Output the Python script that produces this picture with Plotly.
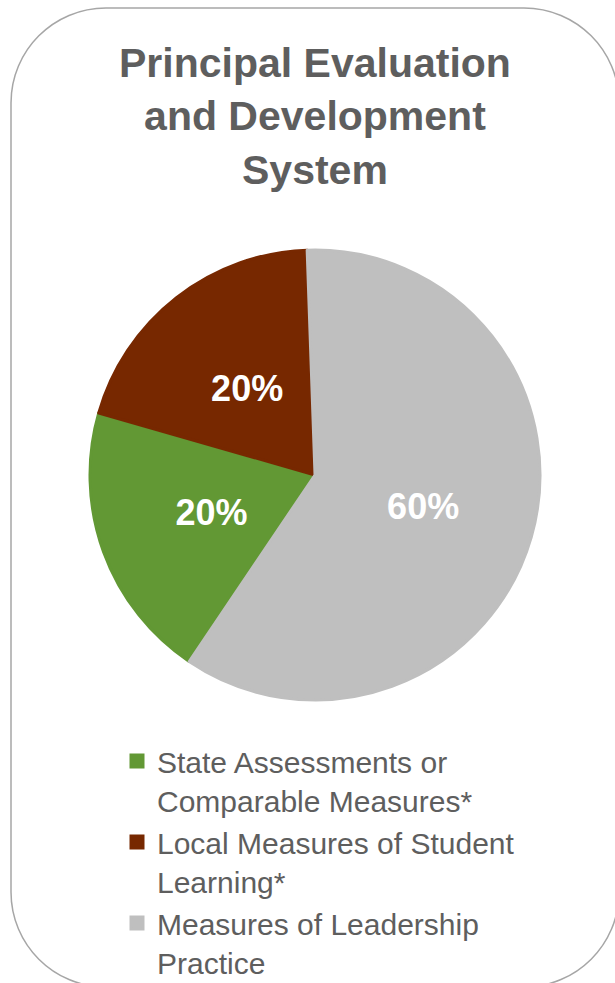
import plotly.graph_objects as go

# ---- data ----
labels = ["State Assessments or<br>Comparable Measures*",
          "Local Measures of Student<br>Learning*",
          "Measures of Leadership<br>Practice"]
values = [20, 20, 60]
colors = ["#629834", "#772800", "#BFBFBF"]
title_lines = ["Principal Evaluation", "and Development", "System"]

W, H = 615, 983
FONT = "Liberation Sans, Arial, sans-serif"
TXT = "#5E5E5E"
PCT = "%{percent:.0%}"


def px(x):
    return x / W


def py(y):
    return 1 - y / H


CX, CY, R = 315, 475, 225
R2 = 175

fig = go.Figure()
# main pie (large slice label)
fig.add_trace(go.Pie(
    labels=labels, values=values,
    marker=dict(colors=colors, line=dict(color=colors, width=3)),
    sort=False, direction="clockwise", rotation=214,
    texttemplate=["", "", PCT],
    textposition="inside", insidetextorientation="horizontal",
    textfont=dict(family=FONT, size=36, color="white", weight="bold"),
    domain=dict(x=[px(CX - R), px(CX + R)], y=[py(CY + R), py(CY - R)]),
    hoverinfo="skip",
))
# transparent overlay pie carrying the small-slice labels
fig.add_trace(go.Pie(
    labels=labels, values=values,
    marker=dict(colors=["rgba(0,0,0,0)"] * 3, line=dict(width=0)),
    sort=False, direction="clockwise", rotation=214,
    texttemplate=[PCT, PCT, ""],
    textposition="inside", insidetextorientation="horizontal",
    textfont=dict(family=FONT, size=36, color="white", weight="bold"),
    domain=dict(x=[px(CX - R2), px(CX + R2)], y=[py(CY + R2), py(CY - R2)]),
    hoverinfo="skip", showlegend=False,
))

# rounded border
x0, x1, y0, y1, r = 11, 619, 8, 987, 95
k = 0.5523 * r


def P(x, y):
    return f"{px(x):.5f},{py(y):.5f}"


path = (f"M {P(x0 + r, y0)} L {P(x1 - r, y0)} "
        f"C {P(x1 - r + k, y0)} {P(x1, y0 + r - k)} {P(x1, y0 + r)} "
        f"L {P(x1, y1 - r)} "
        f"C {P(x1, y1 - r + k)} {P(x1 - r + k, y1)} {P(x1 - r, y1)} "
        f"L {P(x0 + r, y1)} "
        f"C {P(x0 + r - k, y1)} {P(x0, y1 - r + k)} {P(x0, y1 - r)} "
        f"L {P(x0, y0 + r)} "
        f"C {P(x0, y0 + r - k)} {P(x0 + r - k, y0)} {P(x0 + r, y0)} Z")
fig.add_shape(type="path", path=path, xref="paper", yref="paper",
              line=dict(color="#A6A6A6", width=1.5), layer="below")

# title
fig.add_annotation(text="<b>" + "<br>".join(title_lines) + "</b>",
                   x=px(315), y=py(116), xref="paper", yref="paper",
                   xanchor="center", yanchor="middle", align="center",
                   showarrow=False, font=dict(family=FONT, size=41, color=TXT))

fig.update_layout(
    width=W, height=H,
    margin=dict(l=0, r=0, t=0, b=0, autoexpand=False),
    paper_bgcolor="white", plot_bgcolor="white",
    showlegend=True,
    legend=dict(x=px(117), y=py(735), xanchor="left", yanchor="top",
                valign="top",
                font=dict(family=FONT, size=30, color=TXT),
                traceorder="normal", itemclick=False, tracegroupgap=0,
                bgcolor="rgba(0,0,0,0)"),
)

fig.write_html("out.html")
